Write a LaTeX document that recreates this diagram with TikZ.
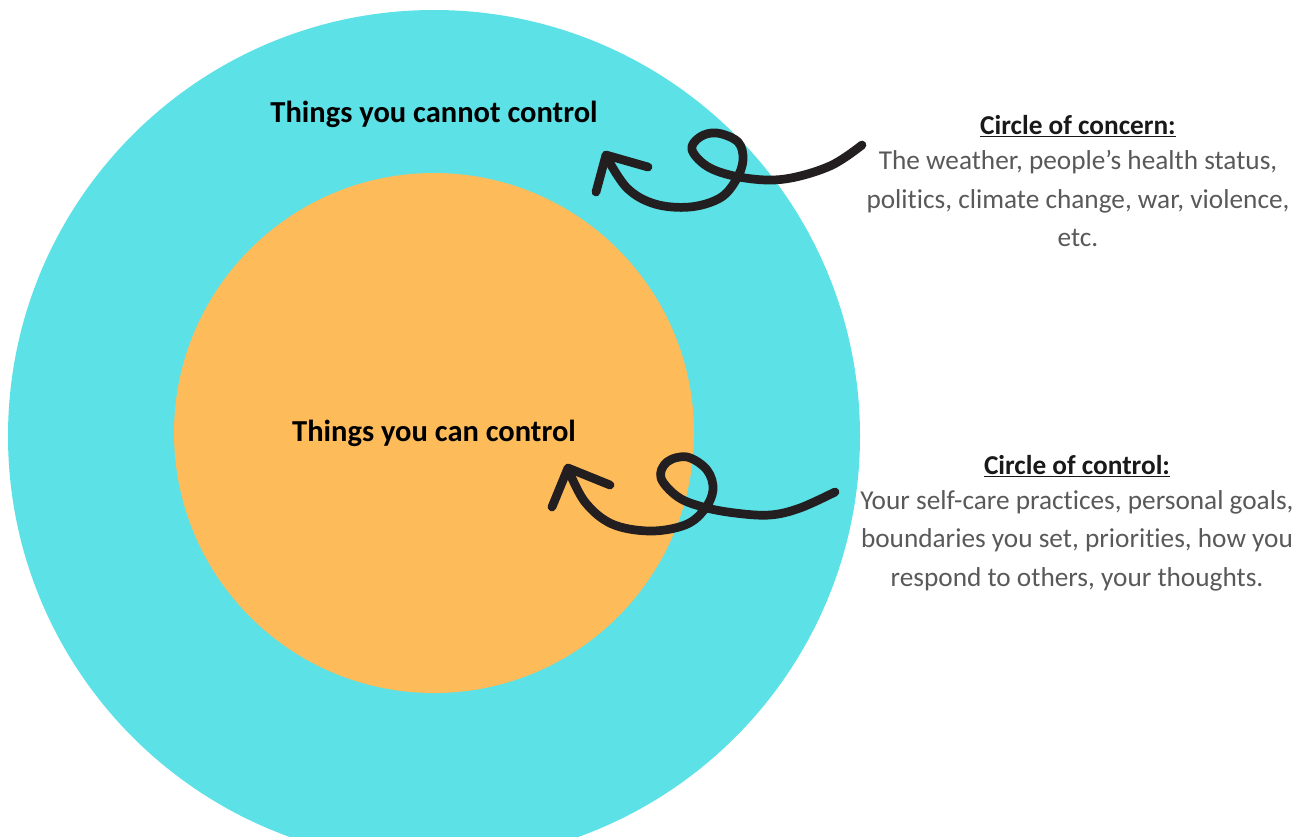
\documentclass[tikz,border=0pt]{standalone}
\usepackage{fontspec}
\setmainfont{Carlito}[Ligatures=CommonOff]
\definecolor{outercol}{HTML}{5CE1E6}
\definecolor{innercol}{HTML}{FDBB5A}
\definecolor{bodygray}{HTML}{595959}
\definecolor{ink}{HTML}{231F20}
\tikzset{
  lbl/.style={font=\bfseries\fontsize{21.7}{26}\selectfont, text=black, inner sep=0pt},
  head/.style={font=\bfseries\fontsize{19.4}{27.4}\selectfont, text=black!90, inner sep=0pt},
  body/.style={font=\fontsize{19.4}{27.4}\selectfont, text=bodygray, align=center, inner sep=0pt},
  squiggle/.style={draw=ink, line width=6.2pt, line cap=round, line join=round}
}
\begin{document}
\begin{tikzpicture}[x=0.025cm, y=-0.025cm]
\useasboundingbox (0,0) rectangle (1308,836);
\begin{scope}
\clip (0,0) rectangle (1308,836);
\fill[outercol] (434,436) circle (426);
\fill[innercol] (434,433) circle (260);
\end{scope}
\node[lbl] (outerlbl) at (434,114) {Things you cannot control};
\node[lbl] (innerlbl) at (434,433) {Things you can control};

\node[head, anchor=center] (concernhead) at (1078,126) {\underline{Circle of concern:}};
\node[body, anchor=north] (concernbody) at (1078,150) {The weather, people’s health status,\\politics, climate change, war, violence,\\etc.};

\node[head, anchor=center] (controlhead) at (1077,466) {\underline{Circle of control:}};
\node[body, anchor=north] (controlbody) at (1077,490) {Your self-care practices, personal goals,\\boundaries you set, priorities, how you\\respond to others, your thoughts.};

% top curly arrow
\draw[squiggle] plot[smooth, tension=0.6] coordinates {(862,145) (830,166) (785,179) (745,178) (710,168) (692,150) (700,137) (717,133) (738,142) (743,160) (736,180) (720,198) (690,207) (655,204) (627,188) (606,156)};
\draw[squiggle] (648,167) -- (606,155) -- (596,192);

% bottom curly arrow
\draw[squiggle] plot[smooth, tension=0.6] coordinates {(835,492) (800,508) (770,515) (735,513) (703,507) (678,497) (661,478) (667,462) (687,457) (707,470) (713,490) (704,510) (685,525) (650,531) (612,524) (585,502) (568,469)};
\draw[squiggle] (610,485) -- (568,468) -- (552,507);
\end{tikzpicture}
\end{document}
